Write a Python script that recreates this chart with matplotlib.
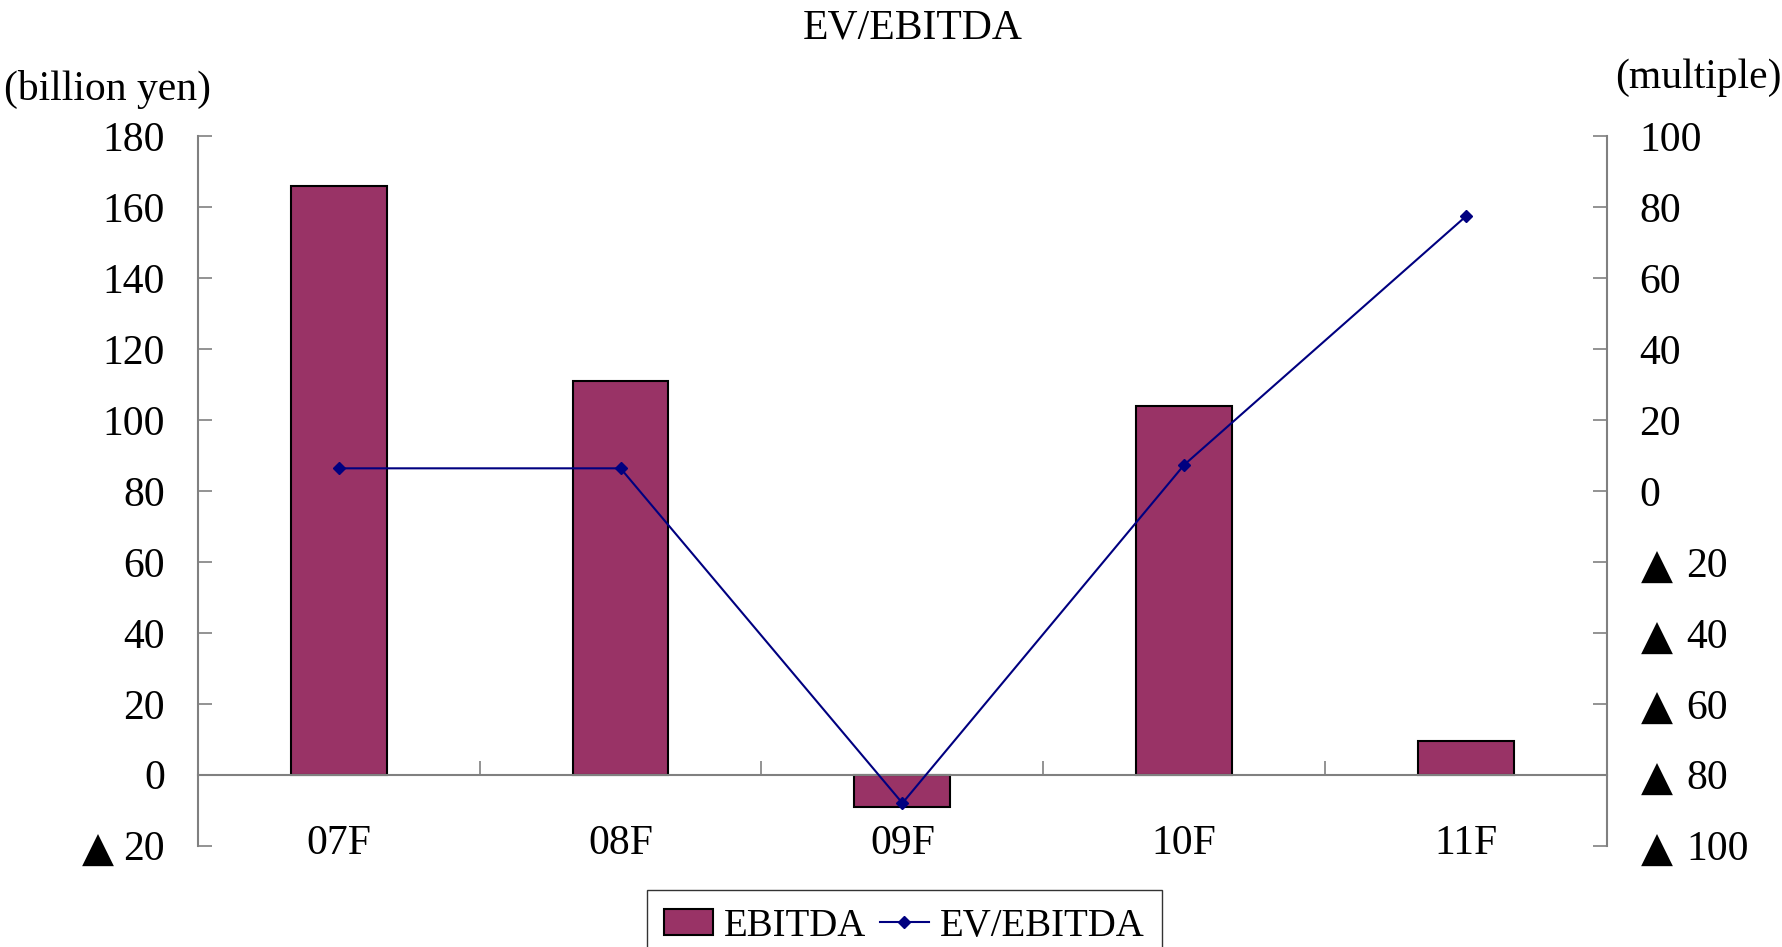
import matplotlib
matplotlib.use("Agg")
import matplotlib.pyplot as plt
import matplotlib.transforms as mtrans
import numpy as np
from matplotlib.patches import Patch
from matplotlib.lines import Line2D

categories = ["07F", "08F", "09F", "10F", "11F"]
ebitda = [166, 111, -9, 104, 9.5]
ev_ebitda = [6.4, 6.4, -88, 7.4, 77.5]

left_ticks = [-20, 0, 20, 40, 60, 80, 100, 120, 140, 160, 180]
right_ticks = [-100, -80, -60, -40, -20, 0, 20, 40, 60, 80, 100]
NEG_MARK = "▲"  # Japanese-style minus sign used on the tick labels

FONT = ["Liberation Serif", "DejaVu Sans"]
plt.rcParams["font.family"] = FONT
FS = 30
BAR_COLOR = "#993366"
LINE_COLOR = "#000080"
AXIS_GRAY = "#808080"

fig = plt.figure(figsize=(17.82, 9.47), dpi=100)
ax = fig.add_axes([0.111, 0.107, 0.7908, 0.749])
ax2 = ax.twinx()

x = np.arange(len(categories))
ax.bar(x, ebitda, width=0.34, color=BAR_COLOR, edgecolor="black", linewidth=1.5, zorder=2)
ax2.plot(x, ev_ebitda, color=LINE_COLOR, linewidth=1.5, marker="D", markersize=6,
         markerfacecolor=LINE_COLOR, markeredgecolor=LINE_COLOR, zorder=3)

ax.set_xlim(-0.5, 4.5)
ax.set_ylim(-20, 180)
ax2.set_ylim(-100, 100)

# left axis: digits as tick labels, the negative mark drawn as a separate glyph
ax.set_yticks(left_ticks)
ax.set_yticklabels([str(abs(v)) for v in left_ticks], fontsize=FS)
ax.tick_params(axis="y", direction="in", length=10, width=1.2, color=AXIS_GRAY, pad=23.5)

# x axis at zero
ax.spines["bottom"].set_position(("data", 0))
ax.set_xticks(x)
ax.set_xticklabels(categories, fontsize=FS)
ax.tick_params(axis="x", which="major", length=0, pad=36)
ax.set_xticks([-0.5, 0.5, 1.5, 2.5, 3.5, 4.5], minor=True)
ax.tick_params(axis="x", which="minor", direction="in", length=10, width=1.2, color=AXIS_GRAY)

ax.spines["top"].set_visible(False)
ax2.spines["top"].set_visible(False)
ax2.spines["bottom"].set_visible(False)
ax2.spines["left"].set_visible(False)
ax.spines["right"].set_visible(False)
for sp in [ax.spines["left"], ax.spines["bottom"], ax2.spines["right"]]:
    sp.set_color(AXIS_GRAY)
    sp.set_linewidth(1.5)

# right axis
ax2.set_yticks(right_ticks)
ax2.set_yticklabels([str(v) if v >= 0 else "" for v in right_ticks], fontsize=FS)
ax2.tick_params(axis="y", direction="in", length=10, width=1.2, color=AXIS_GRAY, pad=23)

def px_offset(base, dx):
    return base + mtrans.ScaledTranslation(dx / fig.dpi, 0, fig.dpi_scale_trans)

for v in left_ticks:
    if v < 0:
        ax.text(0, v, NEG_MARK, transform=px_offset(ax.get_yaxis_transform(), -84),
                ha="right", va="center_baseline", fontsize=FS, family="DejaVu Sans")
for v in right_ticks:
    if v < 0:
        ax2.text(1, v, NEG_MARK, transform=px_offset(ax2.get_yaxis_transform(), 34),
                 ha="left", va="center_baseline", fontsize=FS, family="DejaVu Sans")
        ax2.text(1, v, str(abs(v)), transform=px_offset(ax2.get_yaxis_transform(), 79),
                 ha="left", va="center_baseline", fontsize=FS)

fig.text(0.512, 0.970, "EV/EBITDA", ha="center", va="center", fontsize=FS)
fig.text(0.0606, 0.905, "(billion yen)", ha="center", va="center", fontsize=FS)
fig.text(0.953, 0.918, "(multiple)", ha="center", va="center", fontsize=FS)

handles = [Patch(facecolor=BAR_COLOR, edgecolor="black", linewidth=1.5),
           Line2D([0], [0], color=LINE_COLOR, linewidth=1.5, marker="D", markersize=6)]
leg = fig.legend(handles, ["EBITDA", "EV/EBITDA"], loc="upper center",
                 bbox_to_anchor=(0.5075, 0.060), ncol=2, fontsize=28, frameon=True,
                 fancybox=False, edgecolor="black", handlelength=1.26, handleheight=0.65,
                 handletextpad=0.28, columnspacing=0.35, borderpad=0.45, borderaxespad=0)
leg.get_frame().set_linewidth(1.0)

fig.savefig("out.png", dpi=100)
